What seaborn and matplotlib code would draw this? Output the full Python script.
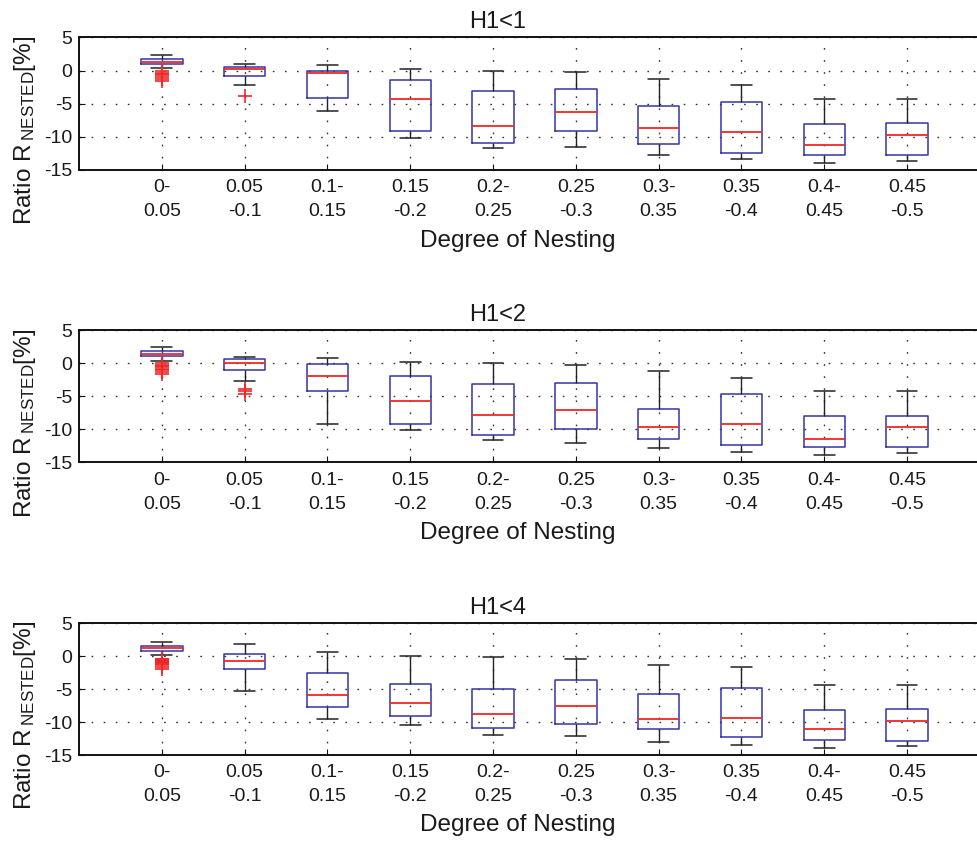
import numpy as np
import pandas as pd
import matplotlib
matplotlib.use("Agg")
import matplotlib.pyplot as plt
import seaborn as sns

# ---------------- data ----------------
categories = ["0-\n0.05", "0.05\n-0.1", "0.1-\n0.15", "0.15\n-0.2", "0.2-\n0.25",
              "0.25\n-0.3", "0.3-\n0.35", "0.35\n-0.4", "0.4-\n0.45", "0.45\n-0.5"]
titles = ["H1<1", "H1<2", "H1<4"]
yticks = [-15, -10, -5, 0, 5]

# H1<1 : five-number summaries (lower whisker, Q1, median, Q3, upper whisker)
h1_1_low = [0.4, -2.1, -6.15, -10.2, -11.65, -11.5, -12.8, -13.4, -14.0, -13.6]
h1_1_q1 = [1.06, -0.76, -4.14, -9.04, -10.86, -9.04, -11.06, -12.5, -12.8, -12.7]
h1_1_med = [1.36, 0.26, -0.4, -4.35, -8.4, -6.2, -8.64, -9.24, -11.2, -9.75]
h1_1_q3 = [1.77, 0.56, -0.05, -1.36, -3.08, -2.73, -5.4, -4.7, -8.1, -7.98]
h1_1_high = [2.3, 1.06, 0.8, 0.2, -0.05, -0.26, -1.2, -2.2, -4.3, -4.3]
h1_1_out_cat = ["0-\n0.05"] * 7 + ["0.05\n-0.1"]
h1_1_out_val = [-0.05, -0.3, -0.5, -0.7, -0.9, -1.2, -1.6, -3.8]

# H1<2
h1_2_low = [0.45, -2.63, -9.14, -10.15, -11.6, -11.97, -12.78, -13.4, -13.9, -13.6]
h1_2_q1 = [1.11, -1.01, -4.19, -9.19, -10.86, -9.95, -11.5, -12.4, -12.7, -12.68]
h1_2_med = [1.41, 0.1, -1.92, -5.7, -7.73, -7.12, -9.55, -9.19, -11.4, -9.65]
h1_2_q3 = [1.82, 0.61, -0.05, -1.82, -3.18, -2.98, -6.92, -4.65, -8.03, -7.88]
h1_2_high = [2.47, 1.06, 0.86, 0.3, 0.0, -0.25, -1.16, -2.17, -4.24, -4.24]
h1_2_out_cat = ["0-\n0.05"] * 8 + ["0.05\n-0.1"] * 3
h1_2_out_val = [0.0, -0.2, -0.4, -0.6, -0.8, -1.0, -1.3, -1.6, -3.8, -4.1, -4.6]

# H1<4
h1_4_low = [0.15, -5.25, -9.55, -10.5, -11.9, -12.17, -13.0, -13.5, -14.0, -13.7]
h1_4_q1 = [0.81, -1.97, -7.73, -9.09, -10.9, -10.3, -11.06, -12.2, -12.8, -12.83]
h1_4_med = [1.16, -0.71, -5.9, -7.07, -8.74, -7.63, -9.5, -9.34, -11.0, -9.8]
h1_4_q3 = [1.57, 0.25, -2.53, -4.24, -5.0, -3.59, -5.7, -4.8, -8.23, -7.98]
h1_4_high = [2.07, 1.87, 0.66, 0.05, -0.2, -0.4, -1.31, -1.62, -4.34, -4.4]
h1_4_out_cat = ["0-\n0.05"] * 12
h1_4_out_val = [-0.4, -0.5, -0.6, -0.7, -0.8, -0.9, -1.0, -1.1, -1.2, -1.4, -1.6, -2.0]

panels = [
    (titles[0], (h1_1_low, h1_1_q1, h1_1_med, h1_1_q3, h1_1_high), h1_1_out_cat, h1_1_out_val),
    (titles[1], (h1_2_low, h1_2_q1, h1_2_med, h1_2_q3, h1_2_high), h1_2_out_cat, h1_2_out_val),
    (titles[2], (h1_4_low, h1_4_q1, h1_4_med, h1_4_q3, h1_4_high), h1_4_out_cat, h1_4_out_val),
]

# ---------------- style ----------------
sns.set_theme(style="white")
plt.rcParams['font.family'] = ['Liberation Sans', 'DejaVu Sans']
plt.rcParams['axes.unicode_minus'] = False
plt.rcParams['mathtext.fontset'] = 'custom'
plt.rcParams['mathtext.rm'] = 'Liberation Sans'
plt.rcParams['mathtext.it'] = 'Liberation Sans:italic'
plt.rcParams['mathtext.bf'] = 'Liberation Sans:bold'

BLUE = '#3434a4'
RED = '#f02828'
TXT = '#1a1a1a'

W, H = 977, 847
fig = plt.figure(figsize=(W / 100, H / 100), dpi=100)

axes_px = [(37.5, 170.0), (330.5, 462.5), (623.0, 755.0)]
left_px, right_px = 79.0, 989.8

for (title, stats, ocat, oval), (top, bot) in zip(panels, axes_px):
    ax = fig.add_axes([left_px / W, 1 - bot / H, (right_px - left_px) / W, (bot - top) / H])
    rows = []
    for i, c in enumerate(categories):
        for arr in stats:
            rows.append({"cat": c, "val": arr[i]})
    df = pd.DataFrame(rows)
    sns.boxplot(data=df, x="cat", y="val", order=categories, whis=np.inf,
                width=0.5, fill=False, showfliers=False, ax=ax,
                color=BLUE, linewidth=1.0,
                boxprops=dict(color=BLUE, linewidth=1.1),
                medianprops=dict(color=RED, linewidth=1.3),
                whiskerprops=dict(color='#222222', linewidth=1.0),
                capprops=dict(color='#222222', linewidth=1.1))
    odf = pd.DataFrame({"cat": ocat, "val": oval})
    sns.stripplot(data=odf, x="cat", y="val", order=categories, jitter=False,
                  marker='+', color=RED, size=10.5, linewidth=1.2, ax=ax, zorder=5)

    ax.set_xlim(-1, 10)
    ax.set_ylim(-15, 5)
    ax.set_yticks(yticks)
    ax.set_yticklabels([str(v) for v in yticks])
    ax.set_xticks(range(len(categories)))
    ax.set_xticklabels(categories, linespacing=1.55)

    ax.set_axisbelow(True)
    ax.grid(True, which='major', axis='both', color='#333333',
            linestyle=(0, (1.2, 7.5)), linewidth=1.0)

    for side in ['left', 'bottom', 'top']:
        ax.spines[side].set_visible(True)
        ax.spines[side].set_color('#111111')
        ax.spines[side].set_linewidth(1.4)
    ax.spines['right'].set_visible(False)

    ax.tick_params(axis='both', direction='in', length=4, width=0.8,
                   colors='#111111', labelcolor=TXT, labelsize=14)
    ax.tick_params(axis='x', pad=6.5)
    ax.tick_params(axis='y', pad=5)
    ax.tick_params(left=True, bottom=True)

    ax.set_title(title, x=0.4595, pad=6.5, fontsize=17, color=TXT)
    ax.set_xlabel("Degree of Nesting", fontsize=17.5, color=TXT)
    ax.xaxis.set_label_coords(0.482, -0.45)
    ax.set_ylabel(r'$\mathregular{Ratio\ R\,{}_{NESTED}[\%]}$', fontsize=17.5, color=TXT)
    ax.yaxis.set_label_coords(-0.045, 0.30)

fig.savefig("out.png", dpi=100)
